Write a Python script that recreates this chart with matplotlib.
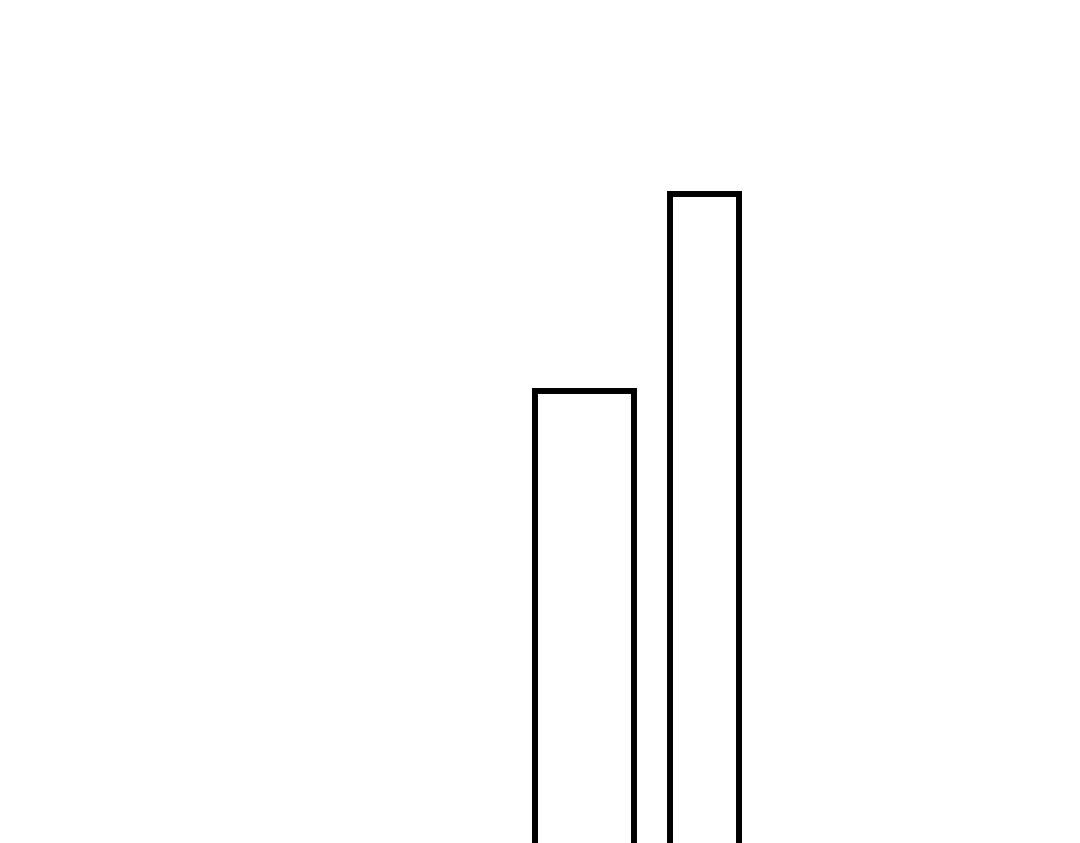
import matplotlib
matplotlib.use("Agg")
import matplotlib.pyplot as plt

# Data
categories = ["A", "B"]
values = [457, 654]
centers = [584.5, 704.5]
widths = [99, 69]

fig = plt.figure(figsize=(10.8, 8.43), dpi=100)
ax = fig.add_axes([0, 0, 1, 1])
ax.bar(centers, values, width=widths, bottom=0, facecolor="white",
       edgecolor="black", linewidth=4.3, joinstyle="miter")
ax.set_xlim(0, 1080)
ax.set_ylim(5, 848)
ax.axis("off")
fig.savefig("out.png", dpi=100, facecolor="white")
